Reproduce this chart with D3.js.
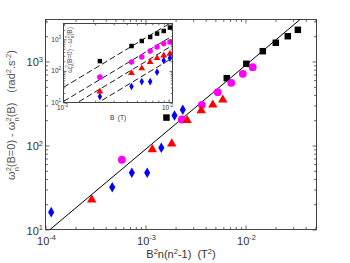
<!DOCTYPE html>
<html>
<head>
<meta charset="utf-8">
<script src="https://cdn.jsdelivr.net/npm/d3@7"></script>
<style>
body { margin: 0; background: #fff; }
svg { display: block; font-family: "Liberation Sans", Arial, sans-serif; }
</style>
</head>
<body>
<div id="chart"></div>
<script>
// main panel: x = B^2 n(n^2-1) (T^2), y = w_n^2(B=0) - w_n^2(B)
var blackX = [1.62e-3, 6.5e-3, 0.0102, 0.0149, 0.0201, 0.0265, 0.0334];
var blackY = [215, 633, 939, 1327, 1670, 2000, 2384];
var magentaX = [5.8e-4, 2.31e-3, 3.66e-3, 5.28e-3, 7.2e-3, 9.4e-3, 0.0118];
var magentaY = [67.6, 204, 305, 431, 557, 714, 855];
var redX = [2.9e-4, 1.17e-3, 1.83e-3, 2.61e-3, 3.61e-3, 4.71e-3, 5.93e-3];
var redY = [22.6, 89.6, 105, 199, 261, 305, 350];
var blueX = [1.14e-4, 4.65e-4, 7.3e-4, 1.04e-3, 1.44e-3, 1.95e-3, 2.36e-3];
var blueY = [16.1, 31.9, 47.3, 47.3, 94, 228, 266];

// inset: same frequency shifts against the field B (T)
var bField = [2.22e-3, 4.44e-3, 5.56e-3, 6.68e-3, 7.77e-3, 8.99e-3, 1.03e-2];
var insetBlackY = [204, 612, 883, 1183, 1517, 1834, 2350];
var insetMagentaY = [63.5, 190, 274, 425, 570, 730, 820];
var insetRedY = [22.3, 85, 120, 190, 255, 309, 351];
var insetBlueY = [15.5, 32, 46, 46, 92, 215, 255];

// fitted line y = fitSlope * x, and n(n^2-1) of each series for the inset fits
var fitSlope = 9e4;
var fitLineX = [1.11e-4, 0.0351];
var modeFactor = [336, 120, 60, 24];

var xTickExp = ["-4", "-3", "-2"];
var yTickExp = ["1", "2", "3"];
var insetXTickExp = ["-3", "-2"];
var insetYTickExp = ["1", "2", "3"];

var width = 350, height = 263;
var svg = d3.select("#chart").append("svg")
    .attr("width", width)
    .attr("height", height);

var series = [
    {x: blackX, y: blackY, iy: insetBlackY, color: "#000000", shape: d3.symbolSquare, size: 42, isize: 20},
    {x: magentaX, y: magentaY, iy: insetMagentaY, color: "#ff00ff", shape: d3.symbolCircle, size: 48, isize: 24},
    {x: redX, y: redY, iy: insetRedY, color: "#ff0000", shape: d3.symbolTriangle, size: 38, isize: 20},
    {x: blueX, y: blueY, iy: insetBlueY, color: "#0000ff", shape: d3.symbolDiamond, size: 32, isize: 17}
];

function logTicks(dom) {
    var major = [], minor = [];
    var e0 = Math.floor(Math.log10(dom[0])), e1 = Math.ceil(Math.log10(dom[1]));
    for (var e = e0; e <= e1; e++) {
        for (var m = 1; m <= 9; m++) {
            var v = m * Math.pow(10, e);
            if (v < dom[0] * 0.999 || v > dom[1] * 1.001) continue;
            if (m == 1) major.push(v); else minor.push(v);
        }
    }
    return {major: major, minor: minor};
}

// inward ticks on all four sides of a box
function drawBoxTicks(g, x, y, majLen, minLen) {
    var xt = logTicks(x.domain()), yt = logTicks(y.domain());
    var b = y.range()[0], t = y.range()[1], l = x.range()[0], r = x.range()[1];
    [[xt.major, majLen], [xt.minor, minLen]].forEach(function(p) {
        g.append("g").attr("transform", "translate(0," + b + ")")
            .call(d3.axisBottom(x).tickValues(p[0]).tickSize(-p[1]).tickFormat(""));
        g.append("g").attr("transform", "translate(0," + t + ")")
            .call(d3.axisTop(x).tickValues(p[0]).tickSize(-p[1]).tickFormat(""));
    });
    [[yt.major, majLen], [yt.minor, minLen]].forEach(function(p) {
        g.append("g").attr("transform", "translate(" + l + ",0)")
            .call(d3.axisLeft(y).tickValues(p[0]).tickSize(-p[1]).tickFormat(""));
        g.append("g").attr("transform", "translate(" + r + ",0)")
            .call(d3.axisRight(y).tickValues(p[0]).tickSize(-p[1]).tickFormat(""));
    });
    g.selectAll(".domain").remove();
    g.selectAll(".tick line").attr("stroke", "#444").attr("stroke-width", 0.8);
    g.append("rect")
        .attr("x", l).attr("y", t)
        .attr("width", r - l).attr("height", b - t)
        .attr("fill", "none").attr("stroke", "#444").attr("stroke-width", 1);
}

// "10" with a superscript exponent
function powLabel(g, px, py, exp, size, anchor) {
    var t = g.append("text")
        .attr("x", px).attr("y", py)
        .attr("text-anchor", anchor)
        .attr("font-size", size)
        .attr("fill", "#333");
    t.append("tspan").text("10");
    t.append("tspan").attr("dy", -size * 0.45).attr("font-size", size * 0.68).text(exp);
}

// ---------- main panel ----------
var x = d3.scaleLog().domain([1e-4, 0.0513]).range([45.5, 316.5]);
var y = d3.scaleLog().domain([10, 3162]).range([229.5, 19.5]);

var main = svg.append("g");
drawBoxTicks(main, x, y, 4, 2.5);

xTickExp.forEach(function(e) {
    powLabel(main, x(Math.pow(10, +e)) + 1, 245, e, 11, "middle");
});
yTickExp.forEach(function(e) {
    powLabel(main, 43, y(Math.pow(10, +e)) + 5, e, 11, "end");
});

var line = d3.line().x(function(d) { return x(d); }).y(function(d) { return y(fitSlope * d); });
main.append("path")
    .attr("d", line(fitLineX))
    .attr("fill", "none").attr("stroke", "#000").attr("stroke-width", 1);

series.forEach(function(s) {
    main.append("g").selectAll("path")
        .data(s.x.map(function(v, i) { return [v, s.y[i]]; }))
        .enter().append("path")
        .attr("transform", function(d) { return "translate(" + x(d[0]) + "," + y(d[1]) + ")"; })
        .attr("d", d3.symbol().type(s.shape).size(s.size))
        .attr("fill", s.color);
});

// axis titles
var xl = main.append("text")
    .attr("x", 181).attr("y", 258)
    .attr("text-anchor", "middle").attr("font-size", 11).attr("fill", "#333")
    .attr("xml:space", "preserve");
xl.append("tspan").text("B");
xl.append("tspan").attr("dy", -4).attr("font-size", 7.5).text("2");
xl.append("tspan").attr("dy", 4).text("n(n");
xl.append("tspan").attr("dy", -4).attr("font-size", 7.5).text("2");
xl.append("tspan").attr("dy", 4).text("-1)  (T");
xl.append("tspan").attr("dy", -4).attr("font-size", 7.5).text("2");
xl.append("tspan").attr("dy", 4).text(")");

function omegaLabel(t, fs) {
    var sup = fs * 0.68;
    t.append("tspan").text("\u03c9");
    t.append("tspan").attr("dy", -fs * 0.4).attr("font-size", sup).text("2");
    t.append("tspan").attr("dx", -sup * 0.55).attr("dy", fs * 0.75).attr("font-size", sup).text("n");
    t.append("tspan").attr("dy", -fs * 0.35).text("(B=0) - \u03c9");
    t.append("tspan").attr("dy", -fs * 0.4).attr("font-size", sup).text("2");
    t.append("tspan").attr("dx", -sup * 0.55).attr("dy", fs * 0.75).attr("font-size", sup).text("n");
    t.append("tspan").attr("dy", -fs * 0.35).text("(B)");
}

var yl = main.append("text")
    .attr("transform", "translate(15,115) rotate(-90)")
    .attr("text-anchor", "middle").attr("font-size", 11).attr("fill", "#555")
    .attr("xml:space", "preserve");
omegaLabel(yl, 11);
yl.append("tspan").attr("dx", 10).text("(rad");
yl.append("tspan").attr("dy", -4).attr("font-size", 7.5).text("2");
yl.append("tspan").attr("dy", 4).text(".s");
yl.append("tspan").attr("dy", -4).attr("font-size", 7.5).text("-2");
yl.append("tspan").attr("dy", 4).text(")");

// ---------- inset ----------
var ix = d3.scaleLog().domain([1e-3, 1.09e-2]).range([63.5, 172.5]);
var iy = d3.scaleLog().domain([10, 3162]).range([102.5, 23.5]);

var inset = svg.append("g");
inset.append("rect")
    .attr("x", 63.5).attr("y", 23.5).attr("width", 109).attr("height", 79)
    .attr("fill", "#fff");

svg.append("clipPath").attr("id", "insetClip")
    .append("rect").attr("x", 63.5).attr("y", 23.5).attr("width", 109).attr("height", 79);

var dashLine = inset.append("g").attr("clip-path", "url(#insetClip)");
modeFactor.forEach(function(n) {
    var l = d3.line().x(function(d) { return ix(d); }).y(function(d) { return iy(fitSlope * n * d * d); });
    dashLine.append("path")
        .attr("d", l(ix.domain()))
        .attr("fill", "none").attr("stroke", "#000").attr("stroke-width", 0.9)
        .attr("stroke-dasharray", "6,3");
});

series.forEach(function(s) {
    inset.append("g").selectAll("path")
        .data(bField.map(function(v, i) { return [v, s.iy[i]]; }))
        .enter().append("path")
        .attr("transform", function(d) { return "translate(" + ix(d[0]) + "," + iy(d[1]) + ")"; })
        .attr("d", d3.symbol().type(s.shape).size(s.isize))
        .attr("fill", s.color);
});

drawBoxTicks(inset, ix, iy, 3, 1.8);

insetXTickExp.forEach(function(e) {
    powLabel(inset, ix(Math.pow(10, +e)) - 1, 110, e, 6.5, "middle");
});
insetYTickExp.forEach(function(e) {
    powLabel(inset, 61, iy(Math.pow(10, +e)) + 2.5, e, 6.5, "end");
});

inset.append("text")
    .attr("x", 118).attr("y", 120)
    .attr("text-anchor", "middle").attr("font-size", 6.5).attr("fill", "#333")
    .attr("xml:space", "preserve")
    .text("B  (T)");

var il = inset.append("text")
    .attr("transform", "translate(72,50) rotate(-90)")
    .attr("text-anchor", "middle").attr("font-size", 6.5).attr("fill", "#555");
omegaLabel(il, 6.5);
</script>
</body>
</html>
